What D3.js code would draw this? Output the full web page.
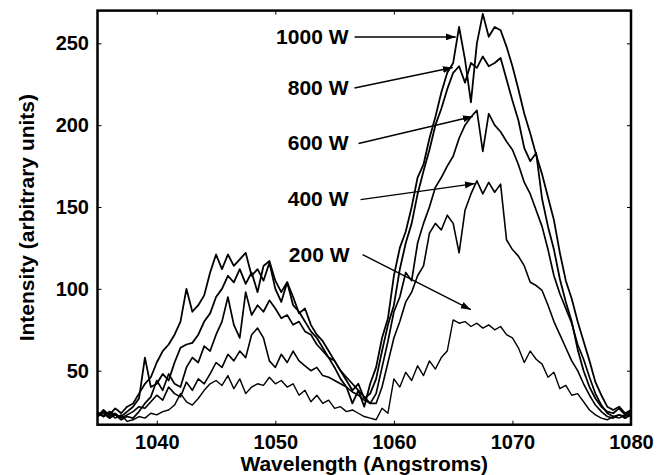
<!DOCTYPE html>
<html><head><meta charset="utf-8">
<script src="https://cdn.jsdelivr.net/npm/d3@7"></script>
<style>
body{margin:0;background:#fff;}
svg text{font-family:"Liberation Sans",Arial,Helvetica,sans-serif;font-weight:bold;fill:#000;}
</style>
</head><body>
<svg id="chart" width="665" height="475"></svg>
<script>
// ---- data ----
const wavelength = [
 1035,1035.5,1036,1036.5,1037,1037.5,1038,1038.5,1039,1039.5,
 1040,1040.5,1041,1041.5,1042,1042.5,1043,1043.5,1044,1044.5,
 1045,1045.5,1046,1046.5,1047,1047.5,1048,1048.5,1049,1049.5,
 1050,1050.5,1051,1051.5,1052,1052.5,1053,1053.5,1054,1054.5,
 1055,1055.5,1056,1056.5,1057,1057.5,1058,1058.5,1059,1059.5,
 1060,1060.5,1061,1061.5,1062,1062.5,1063,1063.5,1064,1064.5,
 1065,1065.5,1066,1066.5,1067,1067.5,1068,1068.5,1069,1069.5,
 1070,1070.5,1071,1071.5,1072,1072.5,1073,1073.5,1074,1074.5,
 1075,1075.5,1076,1076.5,1077,1077.5,1078,1078.5,1079,1079.5,
 1080];

const power200 = [
 25,22,24,21,23,19,20,22,21,24,
 23,25,26,29,36,31,29,33,38,42,
 44,41,47,39,45,36,40,42,41,46,
 42,44,40,42,35,38,31,35,30,32,
 27,28,25,26,24,22,21,20,27,24,
 45,40,49,44,53,47,56,51,58,62,
 81,79,80,77,79,76,78,75,77,72,
 70,64,55,62,57,54,46,49,39,41,
 35,36,31,26,23,21,20,22,21,23,
 22];

const power400 = [
 23,25,22,24,21,23,25,28,27,31,
 35,32,40,36,34,43,38,45,42,48,
 55,52,60,56,62,58,72,76,70,56,
 52,60,55,62,56,53,50,52,47,46,
 44,42,40,37,35,32,30,30,40,55,
 70,80,92,98,108,114,134,140,136,145,
 140,122,148,158,166,158,165,159,164,130,
 124,120,114,104,102,99,90,80,72,64,
 56,50,42,35,29,25,22,21,23,22,
 24];

const power600 = [
 22,24,21,23,20,22,21,25,30,34,
 44,38,48,42,40,52,58,55,65,62,
 72,80,95,78,70,98,84,90,86,93,
 88,82,84,78,80,74,72,66,62,58,
 56,50,46,42,38,34,30,36,52,68,
 86,95,110,105,128,140,150,162,168,175,
 181,192,200,205,209,184,207,200,196,190,
 185,176,165,158,148,138,124,108,97,88,
 79,66,57,46,36,29,24,22,23,21,
 23];

const power800 = [
 24,22,25,23,22,25,28,33,58,40,
 42,48,44,55,64,66,67,72,80,85,
 95,100,108,104,112,103,110,98,114,117,
 105,98,104,95,85,88,78,72,68,62,
 56,50,44,38,42,33,36,45,62,78,
 90,112,128,140,158,172,185,200,210,222,
 232,236,226,238,235,242,236,238,241,228,
 215,203,186,178,183,155,138,124,106,92,
 80,63,50,40,33,28,25,24,27,23,
 25];

const power1000 = [
 22,26,23,27,24,28,30,36,42,46,
 55,62,66,72,80,100,86,90,96,110,
 121,112,121,114,118,122,108,112,105,116,
 100,92,104,90,86,80,74,70,64,58,
 52,45,40,30,38,28,42,52,70,82,
 108,125,135,150,168,176,192,205,220,232,
 238,260,240,214,250,268,254,260,258,248,
 236,222,207,195,182,170,156,142,122,105,
 94,80,68,56,43,35,28,26,28,24,
 26];

const seriesNames = ["1000 W", "800 W", "600 W", "400 W", "200 W"];
const seriesValues = [power1000, power800, power600, power400, power200];
const seriesWidths = [1.8, 1.8, 1.7, 1.6, 1.4];

const xTicks = [1040, 1050, 1060, 1070, 1080];
const yTicks = [50, 100, 150, 200, 250];

// annotation arrows, in data units (wavelength, intensity)
const arrowFromX = [1056.68, 1056.68, 1057.02, 1057.19, 1057.36];
const arrowFromY = [253.9, 222.7, 188.8, 154.5, 120.9];
const arrowToX   = [1065.22, 1064.97, 1066.66, 1066.83, 1066.49];
const arrowToY   = [253.9, 235.2, 205.3, 164.3, 87.3];
const labelX     = [1056.17, 1056.17, 1056.17, 1056.17, 1056.26];
const labelY     = [249.3, 218.3, 184.7, 150.5, 116.6];

// ---- chart ----
const svg = d3.select("#chart");
const pLeft = 97.5, pRight = 631, pTop = 10.6, pBottom = 424.7;

const x = d3.scaleLinear().domain([1035, 1080]).range([pLeft, pRight]);
const y = d3.scaleLinear().domain([17, 270]).range([pBottom, pTop]);

const defs = svg.append("defs");
defs.append("clipPath").attr("id", "plotclip")
  .append("rect").attr("x", pLeft).attr("y", pTop)
  .attr("width", pRight - pLeft).attr("height", pBottom - pTop);
defs.append("marker").attr("id", "arrow")
  .attr("markerUnits", "userSpaceOnUse")
  .attr("markerWidth", 10).attr("markerHeight", 8)
  .attr("refX", 10).attr("refY", 4).attr("orient", "auto")
  .append("path").attr("d", "M0,0.5 L10,4 L0,7.5 Z").attr("fill", "#000");

// axes (inward ticks on all four sides)
const fmt = d3.format("d");
const gB = svg.append("g").attr("transform", `translate(0,${pBottom})`)
  .call(d3.axisBottom(x).tickValues(xTicks).tickSize(-4).tickPadding(10).tickFormat(fmt));
const gT = svg.append("g").attr("transform", `translate(0,${pTop})`)
  .call(d3.axisTop(x).tickValues(xTicks).tickSize(-4).tickFormat(""));
const gL = svg.append("g").attr("transform", `translate(${pLeft},0)`)
  .call(d3.axisLeft(y).tickValues(yTicks).tickSize(-4).tickPadding(8.5).tickFormat(fmt));
const gR = svg.append("g").attr("transform", `translate(${pRight},0)`)
  .call(d3.axisRight(y).tickValues(yTicks).tickSize(-4).tickFormat(""));
[gB, gT, gL, gR].forEach(g => {
  g.select(".domain").remove();
  g.attr("font-family", null).attr("font-size", 20);
  g.selectAll(".tick line").attr("stroke", "#000").attr("stroke-width", 1);
  g.selectAll(".tick text").attr("fill", "#000");
});

// series lines
const line = d3.line()
  .x((d, i) => x(wavelength[i]))
  .y(d => y(d));
const plot = svg.append("g").attr("clip-path", "url(#plotclip)");
seriesValues.forEach((vals, k) => {
  plot.append("path")
    .datum(vals)
    .attr("fill", "none")
    .attr("stroke", "#000")
    .attr("stroke-width", seriesWidths[k])
    .attr("stroke-linejoin", "round")
    .attr("d", line);
});

// frame
svg.append("rect")
  .attr("x", pLeft).attr("y", pTop)
  .attr("width", pRight - pLeft).attr("height", pBottom - pTop)
  .attr("fill", "none").attr("stroke", "#000").attr("stroke-width", 2.5);

// annotations
seriesNames.forEach((name, k) => {
  svg.append("line")
    .attr("x1", x(arrowFromX[k])).attr("y1", y(arrowFromY[k]))
    .attr("x2", x(arrowToX[k])).attr("y2", y(arrowToY[k]))
    .attr("stroke", "#000").attr("stroke-width", 1.4)
    .attr("marker-end", "url(#arrow)");
  svg.append("text")
    .attr("x", x(labelX[k])).attr("y", y(labelY[k]))
    .attr("text-anchor", "end")
    .attr("font-size", 21)
    .text(name);
});

// axis titles
svg.append("text")
  .attr("x", (pLeft + pRight) / 2).attr("y", 471)
  .attr("text-anchor", "middle").attr("font-size", 21)
  .text("Wavelength (Angstroms)");
svg.append("text")
  .attr("transform", `translate(34,${(pTop + pBottom) / 2}) rotate(-90)`)
  .attr("text-anchor", "middle").attr("font-size", 21)
  .text("Intensity (arbitrary units)");
</script>
</body></html>
